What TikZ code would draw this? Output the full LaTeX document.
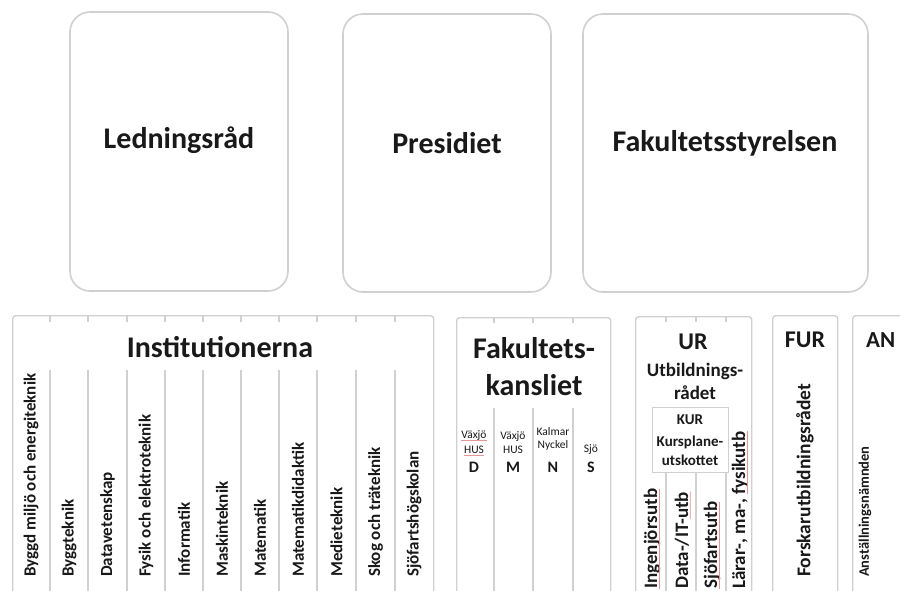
\documentclass[tikz,border=0pt]{standalone}
\usepackage{fontspec}
\setmainfont{Carlito}
\usetikzlibrary{calc}
\definecolor{framegray}{RGB}{208,208,208}
\definecolor{inkgray}{RGB}{25,25,25}
\definecolor{squig}{RGB}{228,150,150}
\begin{document}
\begin{tikzpicture}[x=1pt,y=-1pt,
  topbox/.style={draw=framegray,line width=1.6pt,rounded corners=20pt,inner sep=0pt},
  colframe/.style={draw=framegray,line width=1.4pt,rounded corners=3pt,inner sep=0pt,anchor=north west,minimum height=320pt},
  divider/.style={draw=framegray,line width=1.4pt},
  big/.style={font=\bfseries\fontsize{30}{34}\selectfont,text=inkgray,inner sep=0pt},
  head/.style={font=\bfseries\fontsize{24}{28}\selectfont,text=inkgray,inner sep=0pt},
  sub/.style={font=\bfseries\fontsize{19}{22}\selectfont,text=inkgray,inner sep=0pt},
  kurt/.style={font=\bfseries\fontsize{15}{17}\selectfont,text=inkgray,inner sep=0pt},
  tinylab/.style={font=\fontsize{11.5}{13}\selectfont,text=inkgray,inner sep=0pt},
  letter/.style={font=\bfseries\fontsize{16}{18}\selectfont,text=inkgray,inner sep=0pt},
  vert/.style={rotate=90,anchor=west,inner sep=0pt,text=inkgray,font=\bfseries\fontsize{17}{20}\selectfont},
  vertur/.style={vert,font=\bfseries\fontsize{19}{22}\selectfont},
  spell/.style={draw=squig,line width=0.9pt}
]
\useasboundingbox (0,0) rectangle (900,590);
\clip (0,0) rectangle (900,590);
\fill[white] (0,0) rectangle (900,590);

% top boxes
\node[topbox,minimum width=218pt,minimum height=279pt] (led) at (179,151.5) {};
\node[big] (ledt) at (179,140) {Ledningsråd};
\node[topbox,minimum width=208pt,minimum height=278pt] (pres) at (447,153) {};
\node[big] (prest) at (447,143) {Presidiet};
\node[topbox,minimum width=285pt,minimum height=278pt] (fs) at (725.5,153) {};
\node[big] (fst) at (725,143) {Fakultetsstyrelsen};

% bottom frames
\node[colframe,minimum width=421pt] (inst) at (12,315) {};
\node[colframe,minimum width=154pt] (kans) at (456,317) {};
\node[colframe,minimum width=116pt] (ur) at (635,316) {};
\node[colframe,minimum width=65pt] (fur) at (772,315) {};
\node[colframe,minimum width=70pt] (an) at (852,315) {};

% Institutionerna
\foreach \xx in {50,88,127,165,203,241,279,317,356,395}{
  \draw[divider] (\xx,315) -- (\xx,322);
  \draw[divider] (\xx,370) -- (\xx,600);
}
\node[big] (instt) at (220,347) {Institutionerna};
\node[vert] (i1) at (31,577) {Byggd miljö och energiteknik};
\node[vert] (i2) at (69,577) {Byggteknik};
\node[vert] (i3) at (107.5,577) {Datavetenskap};
\node[vert] (i4) at (146,577) {Fysik och elektroteknik};
\node[vert] (i5) at (184,577) {Informatik};
\node[vert] (i6) at (222,577) {Maskinteknik};
\node[vert] (i7) at (260,577) {Matematik};
\node[vert] (i8) at (298,577) {Matematikdidaktik};
\node[vert] (i9) at (336.5,577) {Medieteknik};
\node[vert] (i10) at (375.5,577) {Skog och träteknik};
\node[vert] (i11) at (414,577) {Sjöfartshögskolan};

% Fakultetskansliet
\foreach \xx in {494,533,573}{
  \draw[divider] (\xx,317) -- (\xx,323);
  \draw[divider] (\xx,408) -- (\xx,600);
}
\node[big] (kt1) at (534,348) {Fakultets-};
\node[big] (kt2) at (534,385) {kansliet};
\node[tinylab] (vx1) at (474,436) {Växjö};
\node[tinylab] (hu1) at (474,450) {HUS};
\node[letter] (ld) at (474,467) {D};
\node[tinylab] (vx2) at (513,437) {Växjö};
\node[tinylab] (hu2) at (513,450) {HUS};
\node[letter] (lm) at (513,467) {M};
\node[tinylab] (km) at (553,432) {Kalmar};
\node[tinylab] (ny) at (553,445) {Nyckel};
\node[letter] (ln) at (553,467) {N};
\node[tinylab] (sj) at (591,450) {Sjö};
\node[letter] (ls) at (591,467) {S};
\draw[spell] ([yshift=-1.5pt]vx1.base west) -- ([yshift=-1.5pt]vx1.base east);
\draw[spell] ([yshift=-1.5pt]hu1.base west) -- ([yshift=-1.5pt]hu1.base east);

% UR
\foreach \xx in {666,696,726}{
  \draw[divider] (\xx,316) -- (\xx,322);
  \draw[divider] (\xx,472) -- (\xx,600);
}
\node[head] (urt) at (693,342) {UR};
\node[sub] (urs1) at (695,371) {Utbildnings-};
\node[sub] (urs2) at (695,393) {rådet};
\node[draw=framegray,line width=0.8pt,fill=white,minimum width=76pt,minimum height=65pt,inner sep=0pt] (kur) at (690,439.5) {};
\node[kurt] (kurt1) at (690,420) {KUR};
\node[kurt] (kurt2) at (690,442) {Kursplane-};
\node[kurt] (kurt3) at (690,460) {utskottet};
\node[vertur] (u1) at (652,589) {Ingenjörsutb};
\node[vertur] (u2) at (682,589) {Data-/IT-utb};
\node[vertur] (u3) at (712,589) {Sjöfartsutb};
\node[vertur] (u4) at (740,589) {Lärar-, ma-, fysikutb};
\draw[spell] ([xshift=2pt]u1.base west) -- ([xshift=2pt]u1.base east);
\draw[spell] ([xshift=2pt]$(u2.base west)!0.72!(u2.base east)$) -- ([xshift=2pt]u2.base east);
\draw[spell] ([xshift=2pt]u3.base west) -- ([xshift=2pt]u3.base east);
\draw[spell] ([xshift=2pt]$(u4.base west)!0.6!(u4.base east)$) -- ([xshift=2pt]u4.base east);

% FUR
\node[head] (furt) at (805,340) {FUR};
\node[vert,font=\bfseries\fontsize{19.5}{22}\selectfont] (furv) at (805,577) {Forskarutbildningsrådet};

% AN
\node[head,anchor=west,font=\bfseries\fontsize{23}{26}\selectfont] (ant) at (866,340) {AN};
\node[vert,font=\bfseries\fontsize{14.5}{18}\selectfont] (anv) at (865,577) {Anställningsnämnden};
\end{tikzpicture}
\end{document}
